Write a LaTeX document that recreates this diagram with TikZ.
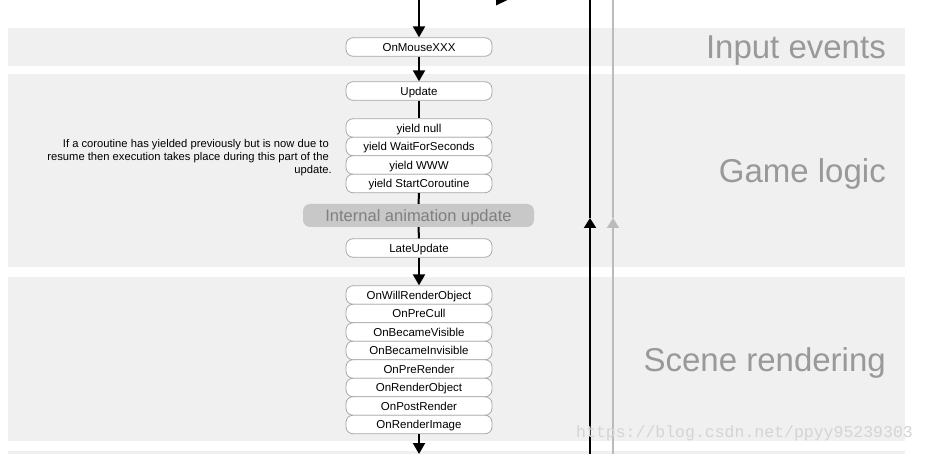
\documentclass[tikz,border=0pt]{standalone}
\usepackage{fontspec}
\setmainfont{Liberation Sans}
\newfontfamily\wmfont{Liberation Mono}
\usetikzlibrary{arrows.meta}
\definecolor{bandgray}{HTML}{F0F0F0}
\definecolor{labelgray}{HTML}{999999}
\definecolor{boxborder}{HTML}{A8A8A8}
\definecolor{animfill}{HTML}{C8C8C8}
\definecolor{animtext}{HTML}{7F7F7F}
\definecolor{lightline}{HTML}{BBBBBB}
\definecolor{wmgray}{HTML}{D4D4D4}
\tikzset{
  band/.style={fill=bandgray, draw=none},
  bandlabel/.style={anchor=east, text=labelgray, font=\fontsize{33}{36}\selectfont, inner sep=0pt, text height=23.6pt, text depth=0pt},
  evt/.style={draw=boxborder, fill=white, rounded corners=7pt, minimum width=146pt, minimum height=18.5pt, inner sep=0pt, font=\fontsize{11.5}{13}\selectfont, line width=0.8pt, text height=8.2pt, text depth=0pt},
  anim/.style={fill=animfill, draw=none, rounded corners=7pt, minimum width=231pt, minimum height=23pt, inner sep=0pt, text=animtext, font=\fontsize{16.5}{19}\selectfont, text height=11.8pt, text depth=0pt},
  flow/.style={line width=2pt, black},
  flowarrow/.style={flow, -{Triangle[length=11pt,width=12pt]}},
  sidearrow/.style={line width=2pt, -{Triangle[length=10pt,width=12pt]}},
}
\begin{document}
\begin{tikzpicture}[x=1pt,y=-1pt]
\useasboundingbox (0,0) rectangle (927,454);
% bands
\fill[band] (8,28) rectangle (905,66);
\fill[band] (8,74) rectangle (905,267);
\fill[band] (8,277) rectangle (905,441);
\fill[band] (8,451) rectangle (905,454);
% band labels
\node[bandlabel] (lin) at (886,47) {Input events};
\node[bandlabel] (lgl) at (886,171) {Game logic};
\node[bandlabel] (lsr) at (886,360) {Scene rendering};
% right side lines
\coordinate (btop) at (590,0);
\coordinate (bmid) at (590,218);
\coordinate (bbot) at (590,454);
\coordinate (gtop) at (613,0);
\coordinate (gmid) at (613,218);
\coordinate (gbot) at (613,454);
\draw[line width=2pt] (bmid) -- (btop);
\draw[sidearrow, black] (bbot) -- (bmid);
\draw[line width=2pt, lightline] (gmid) -- (gtop);
\draw[sidearrow, lightline] (gbot) -- (gmid);
% partial arrow tip at top
\fill[black] (496,5.5) -- (496,0) -- (507.5,0) -- cycle;
% nodes
\node[evt] (mouse) at (419,47) {OnMouseXXX};
\node[evt] (upd) at (419,91) {Update};
\node[evt] (ynull) at (419,128) {yield null};
\node[evt] (ywait) at (419,146.5) {yield WaitForSeconds};
\node[evt] (ywww) at (419,165) {yield WWW};
\node[evt] (ystart) at (419,183.5) {yield StartCoroutine};
\node[anim] (anim) at (418.5,215.5) {Internal animation update};
\node[evt] (late) at (419,248) {LateUpdate};
\node[evt] (r1) at (419,295) {OnWillRenderObject};
\node[evt] (r2) at (419,313.5) {OnPreCull};
\node[evt] (r3) at (419,332) {OnBecameVisible};
\node[evt] (r4) at (419,350.5) {OnBecameInvisible};
\node[evt] (r5) at (419,369) {OnPreRender};
\node[evt] (r6) at (419,387.5) {OnRenderObject};
\node[evt] (r7) at (419,406) {OnPostRender};
\node[evt] (r8) at (419,424.5) {OnRenderImage};
% note
\node[anchor=north east, align=right, inner sep=0pt, font=\fontsize{11.2}{13}\selectfont] (note) at (332,139.5)
 {If a coroutine has yielded previously but is now due to\kern3pt\\resume then execution takes place during this part of the\kern3pt\\update.};
% connectors
\coordinate (ctop) at (419,0);
\coordinate (cbot) at (419,454);
\draw[flowarrow] (ctop) -- (mouse.north);
\draw[flowarrow] (mouse.south) -- (upd.north);
\draw[flow] (upd.south) -- (ynull.north);
\draw[flow] (ystart.south) -- (anim.north);
\draw[flow] (anim.south) -- (late.north);
\draw[flowarrow] (late.south) -- (r1.north);
\draw[flowarrow] (r8.south) -- (cbot);
% watermark
\node[anchor=west, inner sep=0pt, text=wmgray, font=\wmfont\fontsize{16.5}{18}\selectfont] (wm) at (576,433) {https://blog.csdn.net/ppyy95239303};
\end{tikzpicture}
\end{document}
